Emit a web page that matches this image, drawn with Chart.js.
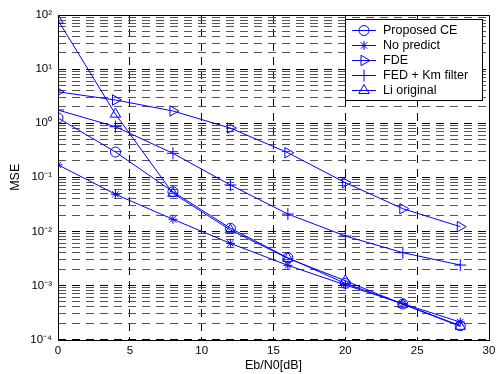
<!DOCTYPE html>
<html>
<head>
<meta charset="utf-8">
<script src="https://cdn.jsdelivr.net/npm/chart.js@4/dist/chart.umd.min.js"></script>
<style>
html,body{margin:0;padding:0;background:#fff;}
#wrap{width:501px;height:374px;}
</style>
</head>
<body>
<div id="wrap"><canvas id="c" width="501" height="374"></canvas></div>
<script>
// ---- data ----
const ebN0 = [0, 4, 8, 12, 16, 20, 24, 28];
const proposedCE = [1.25, 0.293, 0.054, 0.0114, 0.00325, 0.00109, 4.53e-4, 1.8e-4];
const noPredict  = [0.17, 0.0484, 0.0167, 0.0060, 0.00235, 0.00102, 4.6e-4, 2.1e-4];
const fde        = [3.8, 2.68, 1.68, 0.81, 0.284, 0.0794, 0.0262, 0.0122];
const fedKm      = [1.75, 0.86, 0.277, 0.0719, 0.0209, 0.0082, 0.00403, 0.00238];
const liOriginal = [80, 1.47, 0.0505, 0.0106, 0.00317, 0.00122, 4.5e-4, 1.75e-4];
const seriesNames = ['Proposed CE', 'No predict', 'FDE', 'FED + Km filter', 'Li original'];
const xTicks = [0, 5, 10, 15, 20, 25, 30];
const yDecades = [-4, -3, -2, -1, 0, 1, 2];
const yTickLabels = ['10\u207B\u2074', '10\u207B\u00B3', '10\u207B\u00B2', '10\u207B\u00B9', '10\u2070', '10\u00B9', '10\u00B2'];

const BLUE = '#0000ff';
const FONT = "'Liberation Sans', Arial, Helvetica, sans-serif";

const styles = [
  {pointStyle: 'circle', radius: 5, rotation: 0},
  {pointStyle: 'star', radius: 4.5, rotation: 0},
  {pointStyle: 'triangle', radius: 6, rotation: 90},
  {pointStyle: 'cross', radius: 6, rotation: 0},
  {pointStyle: 'triangle', radius: 6, rotation: 0}
];
const seriesData = [proposedCE, noPredict, fde, fedKm, liOriginal];

const datasets = seriesData.map((vals, i) => ({
  label: seriesNames[i],
  data: ebN0.map((x, j) => ({x: x, y: vals[j]})),
  borderColor: BLUE,
  backgroundColor: 'rgba(0,0,0,0)',
  borderWidth: 1,
  pointStyle: styles[i].pointStyle,
  pointRadius: styles[i].radius,
  pointRotation: styles[i].rotation,
  pointBorderColor: BLUE,
  pointBackgroundColor: 'rgba(0,0,0,0)',
  pointBorderWidth: 1,
  tension: 0,
  fill: false
}));

// minor + major log ticks
const yAllTicks = [];
for (let d = -4; d < 2; d++) {
  for (let m = 1; m <= 9; m++) yAllTicks.push(+(m * Math.pow(10, d)).toPrecision(3));
}
yAllTicks.push(100);

function isDecade(v) {
  const l = Math.log10(v);
  return Math.abs(l - Math.round(l)) < 1e-9;
}

const boxPlugin = {
  id: 'box',
  afterDatasetsDraw(chart) {
    const a = chart.chartArea, ctx = chart.ctx;
    ctx.save();
    ctx.strokeStyle = '#000';
    ctx.lineWidth = 1;
    ctx.setLineDash([]);
    ctx.strokeRect(Math.round(a.left) + 0.5, Math.round(a.top) + 0.5,
                   Math.round(a.right - a.left), Math.round(a.bottom - a.top));
    ctx.restore();
  }
};

function drawMarker(ctx, style, x, y, r, rot) {
  ctx.beginPath();
  if (style === 'circle') {
    ctx.arc(x, y, r, 0, Math.PI * 2);
  } else if (style === 'triangle') {
    const a0 = (rot - 90) * Math.PI / 180;
    for (let k = 0; k < 3; k++) {
      const a = a0 + k * 2 * Math.PI / 3;
      const px = x + r * Math.cos(a), py = y + r * Math.sin(a);
      if (k === 0) ctx.moveTo(px, py); else ctx.lineTo(px, py);
    }
    ctx.closePath();
  } else if (style === 'cross') {
    ctx.moveTo(x - r, y); ctx.lineTo(x + r, y);
    ctx.moveTo(x, y - r); ctx.lineTo(x, y + r);
  } else if (style === 'star') {
    ctx.moveTo(x - r, y); ctx.lineTo(x + r, y);
    ctx.moveTo(x, y - r); ctx.lineTo(x, y + r);
    const d = r * 0.7071;
    ctx.moveTo(x - d, y - d); ctx.lineTo(x + d, y + d);
    ctx.moveTo(x - d, y + d); ctx.lineTo(x + d, y - d);
  }
  ctx.stroke();
}

const legendPlugin = {
  id: 'mlegend',
  afterDraw(chart) {
    const ctx = chart.ctx;
    const bx = 345.5, by = 19.5, bw = 137, bh = 81;
    ctx.save();
    ctx.setLineDash([]);
    ctx.fillStyle = '#fff';
    ctx.fillRect(bx, by, bw, bh);
    ctx.strokeStyle = '#000';
    ctx.lineWidth = 1;
    ctx.strokeRect(bx, by, bw, bh);
    ctx.font = '12.5px ' + FONT;
    ctx.textBaseline = 'middle';
    ctx.textAlign = 'left';
    chart.data.datasets.forEach((ds, i) => {
      const y = 30 + i * 15;
      ctx.strokeStyle = BLUE;
      ctx.lineWidth = 1;
      ctx.beginPath();
      ctx.moveTo(352, y + 0.5); ctx.lineTo(376, y + 0.5);
      ctx.stroke();
      drawMarker(ctx, ds.pointStyle, 364, y + 0.5, ds.pointRadius, ds.pointRotation);
      ctx.fillStyle = '#000';
      ctx.fillText(ds.label, 383, y + 1);
    });
    ctx.restore();
  }
};

new Chart(document.getElementById('c'), {
  type: 'line',
  data: {datasets: datasets},
  options: {
    responsive: false,
    animation: false,
    devicePixelRatio: 1,
    layout: {padding: {top: 15, right: 12, left: 0, bottom: 0}},
    plugins: {legend: {display: false}, tooltip: {enabled: false}},
    scales: {
      x: {
        type: 'linear',
        min: 0, max: 30,
        afterBuildTicks(scale) { scale.ticks = xTicks.map(v => ({value: v})); },
        afterFit(scale) { scale.height = 34.5; },
        ticks: {color: '#000', font: {family: FONT, size: 11.5}, padding: 4, autoSkip: false, maxRotation: 0},
        grid: {color: '#000', lineWidth: 1, drawTicks: false},
        border: {display: false, dash: [8, 6]},
        title: {display: true, text: 'Eb/N0[dB]', color: '#000', font: {family: FONT, size: 12.5}, padding: {top: 0, bottom: 1}}
      },
      y: {
        type: 'logarithmic',
        min: 1e-4, max: 100,
        afterBuildTicks(scale) { scale.ticks = yAllTicks.map(v => ({value: v})); },
        afterFit(scale) { scale.width = 58; },
        ticks: {
          color: '#000', font: {family: FONT, size: 11.5}, padding: 6, autoSkip: false,
          callback(v) {
            if (!isDecade(v)) return '';
            const idx = yDecades.indexOf(Math.round(Math.log10(v)));
            return yTickLabels[idx];
          }
        },
        grid: {
          color(ctx) { return (ctx.tick && isDecade(ctx.tick.value)) ? '#000' : '#555'; },
          lineWidth: 1, drawTicks: false
        },
        border: {display: false, dash: [8, 6]},
        title: {display: true, text: 'MSE', color: '#000', font: {family: FONT, size: 12.5}, padding: {top: 8, bottom: 0}}
      }
    }
  },
  plugins: [boxPlugin, legendPlugin]
});
</script>
</body>
</html>
